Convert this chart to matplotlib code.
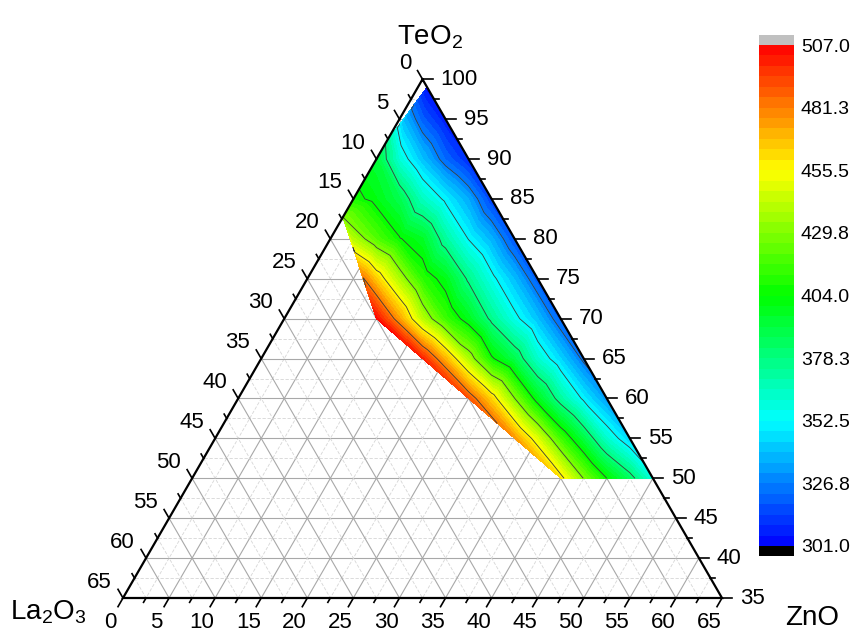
import numpy as np
import matplotlib
matplotlib.use("Agg")
import matplotlib.pyplot as plt
import matplotlib.tri as mtri
from matplotlib.colors import LinearSegmentedColormap

plt.rcParams['font.family'] = ['Liberation Sans', 'DejaVu Sans']
plt.rcParams['mathtext.fontset'] = 'custom'
plt.rcParams['mathtext.rm'] = 'Liberation Sans'
plt.rcParams['mathtext.default'] = 'regular'

# compositions (mol %) and the mapped value
teo2 = [99,
        95, 95, 95,
        92,
        90, 90, 90, 90, 90,
        85, 85, 85, 85, 85, 85, 85,
        82.7,
        80, 80, 80, 80, 80, 80, 80, 80,
        75, 75, 75, 75, 75, 75, 75, 75, 75,
        70, 70, 70, 70, 70, 70, 70, 70, 70,
        65, 65, 65, 65, 65, 65, 65, 65,
        60, 60, 60, 60, 60, 60, 60,
        55, 55, 55, 55, 55, 55,
        50, 50, 50, 50, 50]
la2o3 = [0,
         0, 2.5, 4.5,
         8,
         0, 2.5, 5, 7.5, 10,
         0, 2.5, 5, 7.5, 10, 12.5, 15,
         17.3,
         0, 2.5, 5, 7.5, 10, 12.5, 15, 17.8,
         0, 2.5, 5, 7.5, 10, 12.5, 15, 17.5, 18.9,
         0, 2.5, 5, 7.5, 10, 12.5, 15, 17.5, 20,
         0, 2.5, 5, 7.5, 10, 12.5, 15, 17.5,
         0, 2.5, 5, 7.5, 10, 12.5, 15,
         0, 2.5, 5, 7.5, 10, 12.5,
         0, 2.5, 5, 7.5, 10]
values = [303,
          306, 320, 338,
          378,
          309, 322, 340, 360, 392,
          314, 335, 350, 365, 388, 400, 408,
          430,
          317, 337, 352, 372, 396, 405, 420, 442,
          319, 339, 356, 376, 399, 412, 438, 465, 482,
          320, 340, 356, 375, 398, 415, 440, 474, 505,
          324, 344, 362, 388, 406, 438, 470, 500,
          332, 350, 372, 398, 430, 463, 490,
          343, 362, 390, 416, 448, 476,
          358, 384, 404, 429, 460]
zno = [100 - t - l for t, l in zip(teo2, la2o3)]

ticks = np.arange(0, 65.1, 5)
cbar_ticks = [301.0, 326.75, 352.5, 378.25, 404.0, 429.75, 455.5, 481.25, 507.0]
cbar_labels = ['301.0', '326.8', '352.5', '378.3', '404.0', '429.8', '455.5', '481.3', '507.0']

W, H = 852, 636
S = 599.0          # triangle side in pixels
X0, Y0 = 123, 598  # La2O3 corner in pixels
R3 = np.sqrt(3) / 2


def tern(te, la, zn):
    a = (np.asarray(te, float) - 35) / 65
    c = np.asarray(zn, float) / 65
    return c + a / 2, a * R3


fig = plt.figure(figsize=(W / 100, H / 100), dpi=100)
ax = fig.add_axes([0, 0, 1, 1])
ax.set_xlim(-X0 / S, (W - X0) / S)
ax.set_ylim(-(H - Y0) / S, Y0 / S)
ax.axis('off')

# grid
for v in np.arange(2.5, 65, 2.5):
    major = v % 5 == 0
    kw = dict(color='#a8a8a8', lw=0.8) if major else dict(color='#d6d6d6', lw=0.6, ls=(0, (4, 2)))
    for p, q in [((100 - v, v, 0), (35, v, 65 - v)),
                 ((100 - v, 0, v), (35, 65 - v, v)),
                 ((35 + v, 65 - v, 0), (35 + v, 0, 65 - v))]:
        x, y = tern([p[0], q[0]], [p[1], q[1]], [p[2], q[2]])
        ax.plot(x, y, zorder=1, **kw)

# contour map
cmap = LinearSegmentedColormap.from_list('rb', ['#0000ff', '#00ffff', '#00ff00', '#ffff00', '#ff0000'])
cmap.set_over('#c0c0c0')
cmap.set_under('#000000')
x, y = tern(teo2, la2o3, zno)
tri = mtri.Triangulation(x, y)
levels = np.linspace(301, 507, 49)
cs = ax.tricontourf(tri, values, levels=levels, cmap=cmap, extend='both', zorder=2)
ax.tricontour(tri, values, levels=cbar_ticks[1:-1], colors='#3c3c3c', linewidths=0.6, zorder=3)

# frame
x, y = tern([100, 35, 35, 100], [0, 65, 0, 0], [0, 0, 65, 0])
ax.plot(x, y, color='black', lw=1.6, zorder=4, solid_joinstyle='miter')

# ticks
for v in np.arange(0, 65.1, 2.5):
    L = (10 if v % 5 == 0 else 5) / S
    # left: La2O3
    x, y = tern(100 - v, v, 0)
    ax.plot([x, x - 0.5 * L], [y, y + R3 * L], color='black', lw=1.2, zorder=4)
    # bottom: ZnO
    x, y = tern(35, 65 - v, v)
    ax.plot([x, x - 0.5 * L], [y, y - R3 * L], color='black', lw=1.2, zorder=4)
    # right: TeO2
    x, y = tern(35 + v, 0, 65 - v)
    ax.plot([x, x + L], [y, y], color='black', lw=1.2, zorder=4)

for v in ticks:
    x, y = tern(100 - v, v, 0)
    ax.text(x - 11 / S, y + 16 / S, f'{v:g}', ha='right', va='center', fontsize=16)
    x, y = tern(35, 65 - v, v)
    ax.text(x - 13 / S, y - 24 / S, f'{v:g}', ha='center', va='center', fontsize=16)
    x, y = tern(35 + v, 0, 65 - v)
    ax.text(x + 18 / S, y, f'{35 + v:g}', ha='left', va='center', fontsize=16)

fig.text(430 / W, 1 - 37 / H, 'TeO$_2$', ha='center', va='center', fontsize=20)
fig.text(812 / W, 1 - 618 / H, 'ZnO', ha='center', va='center', fontsize=20)
fig.text(48 / W, 1 - 612 / H, 'La$_2$O$_3$', ha='center', va='center', fontsize=20)

# colour scale
cax = fig.add_axes([759 / W, 1 - 556 / H, 35 / W, 521 / H])
cb = fig.colorbar(cs, cax=cax, extend='both', extendrect=True, extendfrac=10 / 501)
cb.set_ticks(cbar_ticks)
cb.set_ticklabels(cbar_labels)
cb.ax.tick_params(length=0, labelsize=14, pad=5)
cb.outline.set_visible(False)

fig.savefig('out.png', dpi=100)
